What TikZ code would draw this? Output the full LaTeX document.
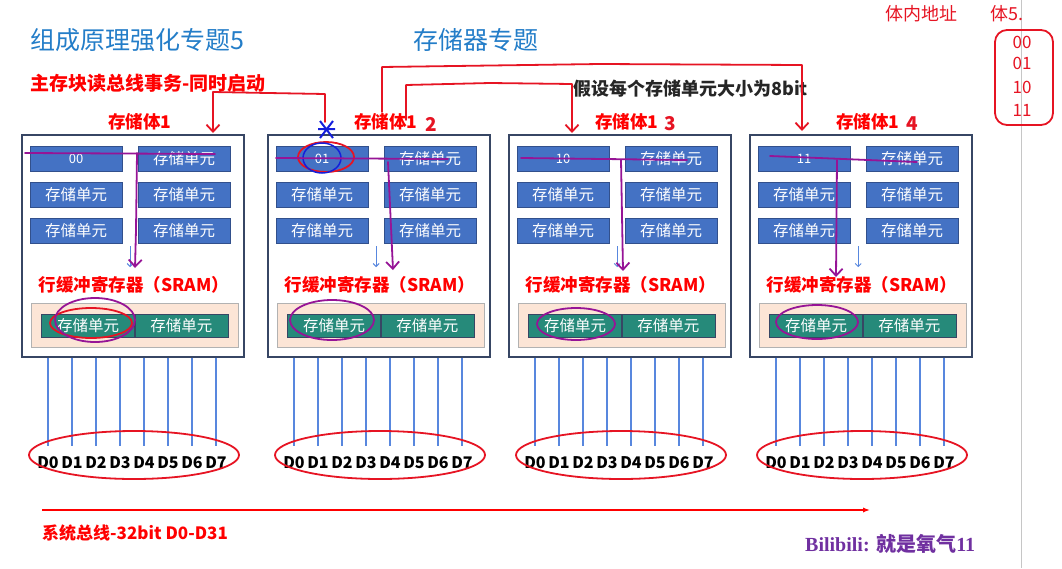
\documentclass[tikz,border=0pt]{standalone}
\usepackage{fontspec}
\setmainfont{Noto Sans CJK SC}
\newfontfamily\songti{Liberation Serif}
\usetikzlibrary{arrows.meta}
\definecolor{biaoti}{RGB}{35,125,200}
\definecolor{hongzi}{RGB}{255,0,0}
\definecolor{danyuan}{RGB}{68,114,196}
\definecolor{danyuanbian}{RGB}{50,80,140}
\definecolor{huanchong}{RGB}{38,138,122}
\definecolor{dise}{RGB}{252,229,214}
\definecolor{kuangbian}{RGB}{55,70,100}
\definecolor{xianse}{RGB}{88,135,222}
\definecolor{zibi}{RGB}{150,20,150}
\definecolor{hongbi}{RGB}{230,20,35}
\definecolor{lanbi}{RGB}{20,30,220}
\definecolor{zise}{RGB}{112,48,160}
\newcommand\zihao[1]{\fontsize{#1}{#1}\selectfont}

\begin{document}
\begin{tikzpicture}[x=1pt,y=-1pt,
  kuang/.style={draw=kuangbian,line width=1.2pt,minimum width=222pt,minimum height=222pt},
  danyuan/.style={draw=danyuanbian,fill=danyuan,text=white,font=\zihao{15.5},minimum width=92pt,minimum height=25pt,inner sep=0pt},
  huan/.style={draw=kuangbian,fill=huanchong,text=white,font=\zihao{15.5},minimum width=93pt,minimum height=23pt,inner sep=0pt},
  hongti/.style={text=hongzi,font=\bfseries\zihao{17.5},inner sep=0pt},
  shuju/.style={font=\bfseries\zihao{16},inner sep=0pt},
  hongbi/.style={draw=hongbi,line width=1.8pt,line cap=round,line join=round},
  zibi/.style={draw=zibi,line width=1.8pt,line cap=round,line join=round},
  bijt/.style={-{Straight Barb[length=7pt,width=13pt]}},
  shouxie/.style={text=hongbi,font=\zihao{18},inner sep=0pt}]
\useasboundingbox (0,0) rectangle (1062,568);
\newcommand\cunchuti[2]{
\node[kuang] (#1k) at (133,246) {};
\node[hongti] (#1t) at (140,122) {存储体1};
\node[danyuan] (#1a) at (76,158.5) {\zihao{13}#2};
\node[danyuan] (#1b) at (184,158.5) {存储单元};
\node[danyuan] (#1c) at (76,194.5) {存储单元};
\node[danyuan] (#1d) at (184,194.5) {存储单元};
\node[danyuan] (#1e) at (76,230.5) {存储单元};
\node[danyuan] (#1f) at (184,230.5) {存储单元};
\node[hongti] (#1r) at (134,285) {行缓冲寄存器（SRAM）};
\draw[xianse,line width=1pt,-{Straight Barb[length=3pt]}] ([xshift=8pt,yshift=-3pt]#1e.south east) -- ++(0,21);
\node[draw=gray!60,fill=dise,minimum width=207pt,minimum height=44pt] (#1h) at (134.5,325) {};
\node[huan] (#1p) at (88,325.5) {存储单元};
\node[huan,anchor=west] (#1q) at (#1p.east) {存储单元};
\foreach \i in {0,...,7}{
  \node[shuju] (#1D\i) at ({48+24*\i},463) {D\i};
  \draw[xianse,line width=1.5pt] (#1D\i |- #1k.south) -- ++(0,88);
}
\draw[hongbi] (134,455) ellipse [x radius=105,y radius=24];
}
\begin{scope}
\cunchuti{u}{00}
\end{scope}
\begin{scope}[xshift=246]
\cunchuti{v}{01}
\end{scope}
\begin{scope}[xshift=487]
\cunchuti{w}{10}
\end{scope}
\begin{scope}[xshift=728]
\cunchuti{z}{11}
\end{scope}

\node[anchor=west,text=biaoti,font=\zihao{25},inner sep=0pt] (biaoti) at (30,40) {组成原理强化专题5};
\node[anchor=west,text=biaoti,font=\zihao{25},inner sep=0pt] (zhuanti) at (413,40) {存储器专题};
\node[hongti,anchor=west,font=\bfseries\zihao{19}] (shiwu) at (30,83) {主存块读总线事务-同时启动};
\node[anchor=west,text=black!85,font=\bfseries\zihao{18},inner sep=0pt] (jiashe) at (573,89) {假设每个存储单元大小为8bit};
\coordinate (zx0) at (42,510);
\coordinate (zx1) at (870,510);
\draw[hongzi,line width=1.5pt,-{Latex[length=7pt]}] (zx0) -- (zx1);
\node[anchor=west,text=hongzi,font=\bfseries\zihao{17},inner sep=0pt] (zongxian) at (42,533) {系统总线-32bit D0-D31};
\node[anchor=west,text=zise,font=\bfseries\zihao{20},inner sep=0pt] (zuozhe) at (805,544) {\songti Bilibili: \rmfamily 就是氧气\songti 11};
\draw[gray!45,line width=1pt] (1021,0) -- (1021,568);

\node[shouxie,font=\bfseries\zihao{19}] (h2) at (431,124) {2};
\node[shouxie,font=\bfseries\zihao{19}] (h3) at (670,124) {3};
\node[shouxie,font=\bfseries\zihao{19}] (h4) at (912,124) {4};
\node[shouxie,anchor=west] (tinei) at (885,14) {体内地址};
\node[shouxie,anchor=west] (tihao) at (990,14) {体5.};
\draw[hongbi,rounded corners=12pt] (995,30) rectangle (1053,125);
\node[shouxie,font=\zihao{17}] at (1022,42) {00};
\node[shouxie,font=\zihao{17}] at (1022,63) {01};
\node[shouxie,font=\zihao{17}] at (1022,87) {10};
\node[shouxie,font=\zihao{17}] at (1022,110) {11};

\draw[hongbi,bijt] (325,122) -- (325,94) -- (268,93) -- (213,92) -- (213,133);
\draw[hongbi,bijt] (382,112) -- (382,67) -- (600,64) -- (802,65) -- (802,131);
\draw[hongbi,bijt] (406,120) -- (406,85) -- (490,83) -- (572,84) -- (572,133);
\draw[lanbi,line width=2pt] (320,121) -- (333,138) (333,121) -- (320,138) (318,129) -- (335,129);
\draw[hongbi] (326,157) ellipse [x radius=28,y radius=15];
\draw[lanbi,line width=1.5pt] (322,158) ellipse [x radius=19,y radius=15];
\draw[hongbi] (91,323) ellipse [x radius=41,y radius=15];

\draw[zibi] (25,153) -- (215,154);
\draw[zibi,bijt] (137,153) -- (136,230) -- (135,268);
\draw[zibi] (95,320) ellipse [x radius=40,y radius=22];
\draw[zibi] (276,158) -- (448,159);
\draw[zibi,bijt] (388,162) -- (393,270);
\draw[zibi] (332,320) ellipse [x radius=42,y radius=20];
\draw[zibi] (521,158) -- (687,160);
\draw[zibi,bijt] (621,160) -- (623,271);
\draw[zibi] (576,324) ellipse [x radius=39,y radius=16];
\draw[zibi] (770,156) -- (917,162);
\draw[zibi,bijt] (837,160) -- (836,277);
\draw[zibi] (817,322) ellipse [x radius=41,y radius=17];
\end{tikzpicture}
\end{document}
